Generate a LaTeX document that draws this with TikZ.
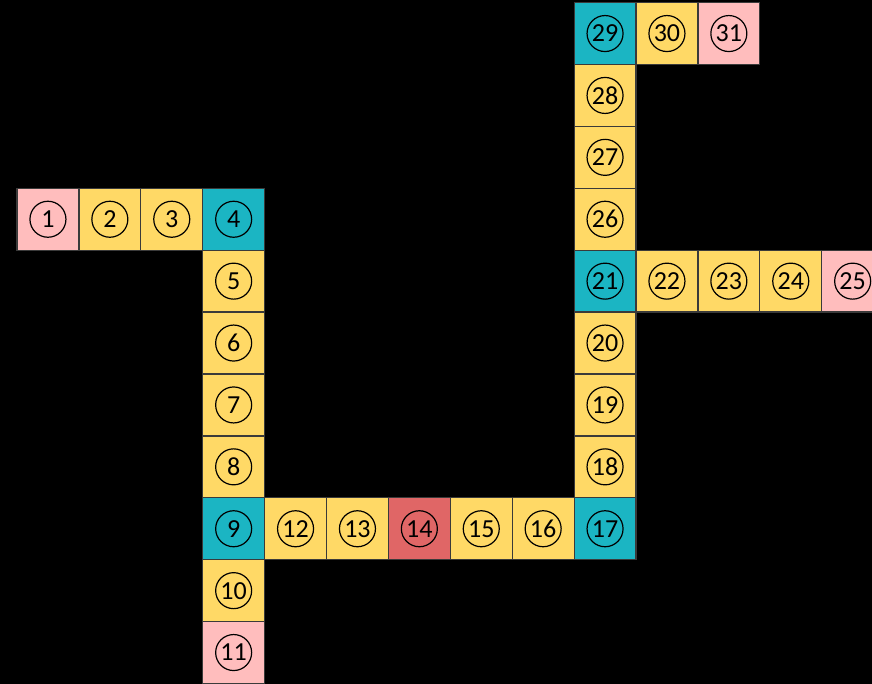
\documentclass[tikz,border=0pt]{standalone}
\usepackage{fontspec}
\setmainfont{Carlito}
\definecolor{pk}{HTML}{FFBDBD}
\definecolor{yl}{HTML}{FFD966}
\definecolor{tl}{HTML}{1BB5C3}
\definecolor{rd}{HTML}{E06666}
\definecolor{bd}{HTML}{3A3A3A}
\begin{document}
\begin{tikzpicture}[x=1pt,y=-1pt,
  cell/.style={draw=bd,line width=1.2pt,minimum size=61.9pt,inner sep=0pt,outer sep=0pt},
  num/.style={circle,draw=black,line width=1.2pt,minimum size=36pt,inner sep=0pt,font=\fontsize{26}{26}\selectfont}]
\useasboundingbox (0,0) rectangle (872,684);
\fill[black] (0,0) rectangle (872,684);
\begin{scope}
\clip (0,0) rectangle (872,684);
\foreach \n/\i/\j/\c in {1/0/3/pk, 2/1/3/yl, 3/2/3/yl, 4/3/3/tl,
  5/3/4/yl, 6/3/5/yl, 7/3/6/yl, 8/3/7/yl, 9/3/8/tl, 10/3/9/yl, 11/3/10/pk,
  12/4/8/yl, 13/5/8/yl, 14/6/8/rd, 15/7/8/yl, 16/8/8/yl, 17/9/8/tl,
  18/9/7/yl, 19/9/6/yl, 20/9/5/yl, 21/9/4/tl,
  22/10/4/yl, 23/11/4/yl, 24/12/4/yl, 25/13/4/pk,
  26/9/3/yl, 27/9/2/yl, 28/9/1/yl, 29/9/0/tl, 30/10/0/yl, 31/11/0/pk}{
  \node[cell,fill=\c] (c\n) at ({17+(\i+0.5)*61.9},{2.6+(\j+0.5)*61.9}) {};
  \node[num] (n\n) at (c\n) {\n};
}
\end{scope}
\end{tikzpicture}
\end{document}
